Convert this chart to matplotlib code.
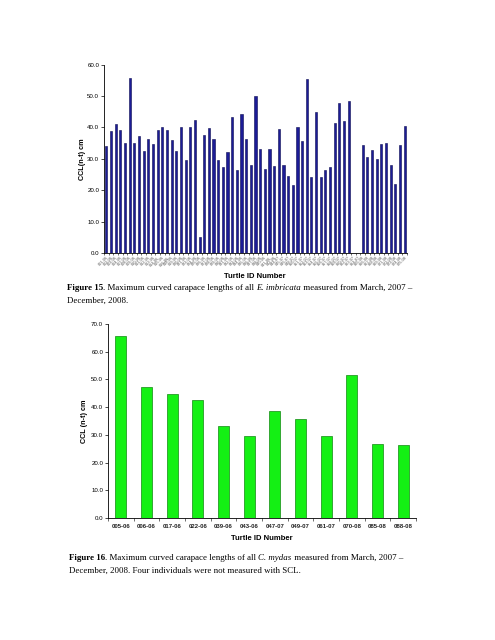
import numpy as np
import matplotlib
matplotlib.use("Agg")
import matplotlib.pyplot as plt
from matplotlib.ticker import FormatStrFormatter, FixedLocator

plt.rcParams['font.family'] = ['Liberation Sans', 'DejaVu Sans']

# ---- Figure 15 data (E. imbricata) ----
hawksbill_ids = [
    "001-06", "002-06", "003-06", "004-06", "007-06", "008-06", "009-06", "010-06",
    "011-06", "012-06", "013-06", "014-06", "015-06", "016-06", "018-06", "019-06",
    "020-06", "021-06", "023-06", "024-06", "025-06", "026-06", "027-06", "028-06",
    "029-06", "030-06", "031-06", "032-06", "033-06", "034-06", "035-06", "036-06",
    "037-06", "038-06", "040-06", "041-06", "042-06", "044-07", "045-07", "046-07",
    "048-07", "050-07", "051-07", "052-07", "053-07", "054-07", "055-07", "056-07",
    "057-07", "058-07", "059-07", "060-07", "062-07", "063-07", "064-07", "065-08",
    "066-08", "067-08", "068-08", "069-08", "071-08", "072-08", "073-08", "074-08",
    "075-08",
]
hawksbill_ccl = [
    34.1, 39.0, 41.1, 39.1, 34.9, 55.8, 35.0, 37.2, 32.4, 36.2,
    34.7, 39.1, 40.0, 39.1, 36.0, 32.6, 40.2, 29.6, 40.2, 42.4,
    5.1, 37.6, 39.9, 36.2, 29.5, 27.5, 32.1, 43.2, 26.3, 44.3,
    36.2, 28.0, 50.1, 33.1, 26.8, 33.1, 27.8, 39.5, 28.0, 24.5,
    21.8, 40.0, 35.8, 55.5, 24.2, 44.9, 24.2, 26.6, 27.5, 41.5,
    47.7, 42.1, 48.3, np.nan, np.nan, 34.4, 30.7, 32.8, 30.1, 34.6,
    35.0, 27.9, 22.0, 34.3, 40.6,
]

# ---- Figure 16 data (C. mydas) ----
green_ids = ["005-06", "006-06", "017-06", "022-06", "039-06", "043-06",
             "047-07", "049-07", "061-07", "070-08", "085-08", "088-08"]
green_ccl = [65.7, 47.3, 44.8, 42.7, 33.3, 29.7, 38.6, 35.6, 29.6, 51.4, 26.6, 26.2]

W, H = 495, 640
fig = plt.figure(figsize=(W / 100, H / 100), dpi=100)


def ax_rect(x0, x1, ytop, ybot):
    return [x0 / W, 1 - ybot / H, (x1 - x0) / W, (ybot - ytop) / H]


# ---------- Top chart ----------
ax1 = fig.add_axes(ax_rect(104, 407, 64.7, 253))
x1 = np.arange(len(hawksbill_ids))
ax1.bar(x1, hawksbill_ccl, width=0.45, color='#1c1c96', edgecolor='#0a0a50', linewidth=0.4)
ax1.set_xlim(-0.5, len(hawksbill_ids) - 0.5)
ax1.set_ylim(0, 60)
ax1.set_yticks(np.arange(0, 61, 10))
ax1.yaxis.set_major_formatter(FormatStrFormatter('%.1f'))
ax1.set_xticks(x1)
ax1.set_xticklabels(hawksbill_ids, rotation=45, ha='right', fontsize=2.8, color='#555555',
                    rotation_mode='anchor')
ax1.tick_params(axis='x', length=0, pad=2)
ax1.xaxis.set_minor_locator(FixedLocator(np.arange(-0.5, len(hawksbill_ids), 1)))
ax1.tick_params(axis='x', which='minor', length=1.5, width=0.4)
ax1.tick_params(axis='y', labelsize=4.4, length=2, width=0.5, pad=1.5)
for s in ['top', 'right']:
    ax1.spines[s].set_visible(False)
for s in ['left', 'bottom']:
    ax1.spines[s].set_linewidth(0.6)
ax1.set_ylabel('CCL(n-t) cm', fontsize=5.2, fontweight='bold', labelpad=1)
fig.text(255 / W, 1 - 276 / H, 'Turtle ID Number', fontsize=5.5, fontweight='bold',
         ha='center', va='center')

# ---------- Bottom chart ----------
ax2 = fig.add_axes(ax_rect(108, 416, 323.7, 518.3))
x2 = np.arange(len(green_ids))
ax2.bar(x2, green_ccl, width=0.42, color='#14f014', edgecolor='#118811', linewidth=0.5)
ax2.set_xlim(-0.5, len(green_ids) - 0.5)
ax2.set_ylim(0, 70)
ax2.set_yticks(np.arange(0, 71, 10))
ax2.yaxis.set_major_formatter(FormatStrFormatter('%.1f'))
ax2.set_xticks(x2)
ax2.set_xticklabels(green_ids, fontsize=4.3, fontweight='bold', color='#222222')
ax2.tick_params(axis='x', length=0, pad=4)
ax2.xaxis.set_minor_locator(FixedLocator(np.arange(-0.5, len(green_ids), 1)))
ax2.tick_params(axis='x', which='minor', length=2, width=0.4)
ax2.tick_params(axis='y', labelsize=4.4, length=2, width=0.5, pad=1.5)
for s in ['top', 'right']:
    ax2.spines[s].set_visible(False)
for s in ['left', 'bottom']:
    ax2.spines[s].set_linewidth(0.6)
ax2.set_ylabel('CCL (n-t) cm', fontsize=5.2, fontweight='bold', labelpad=2)
fig.text(262 / W, 1 - 539 / H, 'Turtle ID Number', fontsize=5.5, fontweight='bold',
         ha='center', va='center')

# ---------- Captions (styled pieces chained left to right) ----------
ax_cap = fig.add_axes([0, 0, 1, 1], zorder=-1)
ax_cap.axis('off')


def styled_line(x, y, pieces, size=6.4):
    t = None
    for txt, style in pieces:
        kw = dict(fontsize=size, family='Liberation Serif',
                  fontweight='bold' if style == 'b' else 'normal',
                  fontstyle='italic' if style == 'i' else 'normal')
        if t is None:
            t = fig.text(x / W, 1 - y / H, txt, ha='left', va='bottom', **kw)
        else:
            t = ax_cap.annotate(txt, xy=(1, 0), xycoords=t, ha='left', va='bottom',
                                annotation_clip=False, **kw)


styled_line(67, 292, [("Figure 15", 'b'), (". Maximum curved carapace lengths of all ", 'n'),
                      ("E. imbricata", 'i'), (" measured from March, 2007 \u2013", 'n')])
styled_line(67, 305, [("December, 2008.", 'n')])
styled_line(69, 562, [("Figure 16", 'b'), (". Maximum curved carapace lengths of all ", 'n'),
                      ("C. mydas", 'i'), (" measured from March, 2007 \u2013", 'n')])
styled_line(69, 575, [("December, 2008. Four individuals were not measured with SCL.", 'n')])

fig.savefig('out.png', dpi=100)
